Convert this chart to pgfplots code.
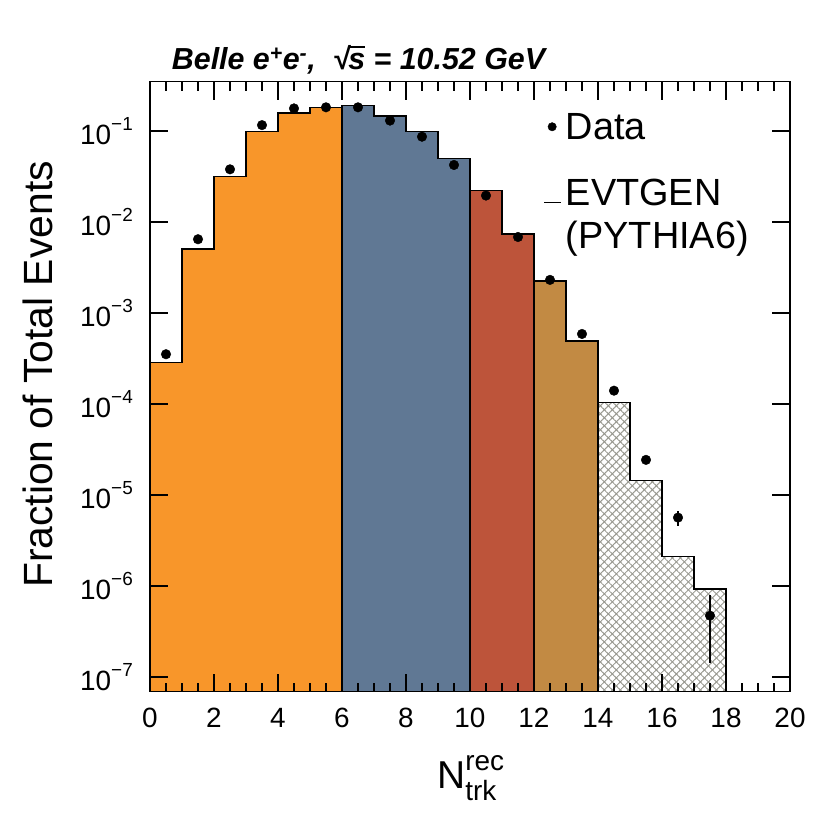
\documentclass[border=0pt]{standalone}
\usepackage{fontspec}
\setmainfont{Liberation Sans}
\usepackage{pgfplots}
\pgfplotsset{compat=1.18}
\usetikzlibrary{patterns.meta}
\definecolor{c1}{HTML}{F8962A}
\definecolor{c2}{HTML}{607894}
\definecolor{c3}{HTML}{BD543A}
\definecolor{c4}{HTML}{C28A43}
\definecolor{hatch}{HTML}{98988F}
\begin{document}
\begin{tikzpicture}
\begin{axis}[
 set layers,
 scale only axis, width=640bp, height=610bp,
 xmin=0, xmax=20, ymode=log, log basis y=10, ymin=6.89e-8, ymax=0.348,
 xtick={0,2,...,20}, minor x tick num=3,
 ytick={1e-7,1e-6,1e-5,1e-4,1e-3,1e-2,1e-1},
 tick align=inside,
 major tick length=18bp, minor tick length=9bp,
 tick style={black, line width=1.3bp},
 axis line style={line width=1.3bp},
 /pgf/number format/assume math mode=true,
 tick label style={font=\fontsize{28}{34}\selectfont},
 xticklabel style={inner sep=0pt, yshift=-16bp},
 yticklabel style={inner sep=0pt, xshift=-17bp},
 yticklabel={\pgfmathtruncatemacro\myexp{-round(\tick)}10\raisebox{14bp}{\fontsize{19}{19}\selectfont −\myexp}},
 ylabel={Fraction of Total Events},
 ylabel style={font=\fontsize{41}{49}\selectfont, at={(axis description cs:-0.175,0.52)}, anchor=center},
 xlabel={N\makebox[0pt][l]{\raisebox{18bp}{\fontsize{28}{28}\selectfont rec}}\raisebox{-12bp}{\fontsize{28}{28}\selectfont trk}},
 xlabel style={font=\fontsize{39}{47}\selectfont, at={(axis description cs:0.495,-0.158)}, anchor=base, inner sep=0pt},
 title={Belle e\textsuperscript{+}e\textsuperscript{-},\ \ √\kern-1bp\vbox{\hrule height 1.5bp\kern5bp\hbox{s}} = 10.52 GeV},
 title style={at={(axis description cs:0.034,1)}, anchor=base west, yshift=6.7bp, inner sep=0pt, font=\fontsize{30.5}{34}\selectfont\bfseries\itshape},
 legend style={at={(0.614,0.949)}, anchor=north west, draw=none, fill=none, inner sep=0pt, font=\fontsize{38}{43}\selectfont, row sep=34.9bp, column sep=4bp, nodes={inner sep=0pt}},
 legend cell align=left,
]
% MC histogram regions (bottom at the lower axis limit)
\addplot[on layer=axis background, const plot, fill=c1, draw=black, line width=1.3bp, forget plot] coordinates {(0,6.89e-8)(0,2.84e-4)(1,5.05e-3)(2,0.0315)(3,0.0982)(4,0.157)(5,0.182)(6,6.89e-8)};
\addplot[on layer=axis background, const plot, fill=c2, draw=black, line width=1.3bp, forget plot] coordinates {(6,6.89e-8)(6,0.190)(7,0.146)(8,0.0982)(9,0.0501)(10,6.89e-8)};
\addplot[on layer=axis background, const plot, fill=c3, draw=black, line width=1.3bp, forget plot] coordinates {(10,6.89e-8)(10,0.0221)(11,0.00738)(12,6.89e-8)};
\addplot[on layer=axis background, const plot, fill=c4, draw=black, line width=1.3bp, forget plot] coordinates {(12,6.89e-8)(12,0.00225)(13,4.92e-4)(14,6.89e-8)};
\addplot[on layer=axis background, const plot, draw=none, pattern={Lines[angle=45,distance=5.66bp,line width=1bp]}, pattern color=hatch, forget plot] coordinates {(14,6.89e-8)(14,1.03e-4)(15,1.44e-5)(16,2.10e-6)(17,9.27e-7)(18,6.89e-8)};
\addplot[on layer=axis background, const plot, draw=black, line width=1.3bp, pattern={Lines[angle=-45,distance=5.66bp,line width=1bp]}, pattern color=hatch, forget plot] coordinates {(14,6.89e-8)(14,1.03e-4)(15,1.44e-5)(16,2.10e-6)(17,9.27e-7)(18,6.89e-8)};
% Data
\addplot[only marks, mark=*, mark size=4.8bp, black,
  legend image code/.code={\path[draw=none] (0bp,0bp) -- (18bp,0bp); \draw[only marks, mark size=4.2bp] plot coordinates {(9bp,0bp)};},
  error bars/.cd, y dir=both, y explicit, error mark=none, error bar style={line width=1.3bp}]
 coordinates {
 (0.5,3.52e-4) +- (0,0)
 (1.5,6.46e-3) +- (0,0)
 (2.5,0.0379) +- (0,0)
 (3.5,0.116) +- (0,0)
 (4.5,0.177) +- (0,0)
 (5.5,0.182) +- (0,0)
 (6.5,0.182) +- (0,0)
 (7.5,0.130) +- (0,0)
 (8.5,0.0865) +- (0,0)
 (9.5,0.0423) +- (0,0)
 (10.5,0.0195) +- (0,0)
 (11.5,0.00684) +- (0,0)
 (12.5,0.00231) +- (0,0)
 (13.5,5.88e-4) +- (0,0)
 (14.5,1.40e-4) +- (0,0)
 (15.5,2.43e-5) +- (0,0)
 (16.5,5.64e-6) +- (0,1.1e-6)
 (17.5,4.72e-7) +- (0,3.3e-7)
 };
\addlegendentry{Data}
\addlegendimage{legend image code/.code={\path[draw=none] (0bp,0bp) -- (18bp,0bp); \draw[line width=1.2bp] (1bp,-11.5bp) -- (18bp,-11.5bp);}}
\addlegendentry{\begin{tabular}[t]{@{}l@{}}EVTGEN\\(PYTHIA6)\end{tabular}}
\end{axis}
\pgfresetboundingbox
\path[use as bounding box] (-150bp,-122.3bp) rectangle (680bp,691.7bp);
\end{tikzpicture}
\end{document}
